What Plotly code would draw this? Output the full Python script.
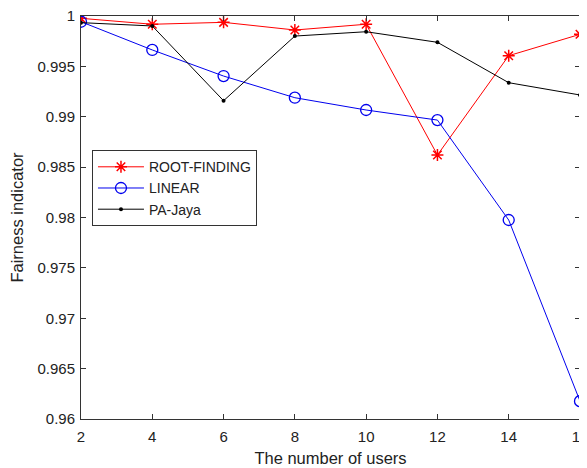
import plotly.graph_objects as go

users = [2, 4, 6, 8, 10, 12, 14, 16]
root_finding = [0.99977, 0.99918, 0.99937, 0.99861, 0.99918, 0.9862, 0.99606, 0.99818]
linear = [0.99943, 0.99663, 0.99404, 0.99189, 0.99067, 0.98967, 0.97975, 0.96177]
pa_jaya = [0.99934, 0.99901, 0.99159, 0.99801, 0.99844, 0.99739, 0.99338, 0.99216]

y_ticks = [0.96, 0.965, 0.97, 0.975, 0.98, 0.985, 0.99, 0.995, 1.0]
y_labels = ["0.96", "0.965", "0.97", "0.975", "0.98", "0.985", "0.99", "0.995", "1"]
x_ticks = [2, 4, 6, 8, 10, 12, 14, 16]

FONT = "Liberation Sans, Arial, sans-serif"

fig = go.Figure()
fig.add_trace(go.Scatter(x=users, y=root_finding, name="ROOT-FINDING", mode="lines+markers",
                         line=dict(color="#ff0000", width=1),
                         marker=dict(symbol="asterisk-open", size=10, color="#ff0000",
                                     line=dict(color="#ff0000", width=1.5))))
fig.add_trace(go.Scatter(x=users, y=linear, name="LINEAR", mode="lines+markers",
                         line=dict(color="#0000ee", width=1),
                         marker=dict(symbol="circle-open", size=11, color="#0000ee",
                                     line=dict(color="#0000ee", width=1.3))))
fig.add_trace(go.Scatter(x=users, y=pa_jaya, name="PA-Jaya", mode="lines+markers",
                         line=dict(color="#000000", width=1),
                         marker=dict(symbol="circle", size=4, color="#000000")))

axis_common = dict(showgrid=False, zeroline=False, showline=True, linecolor="#333333",
                   linewidth=1, mirror="ticks", ticks="inside", ticklen=5, tickcolor="#333333",
                   automargin=False, ticklabeloverflow="allow",
                   tickfont=dict(family=FONT, size=15, color="#222222"))

fig.update_xaxes(range=[2, 16], tickvals=x_ticks, ticklabelstandoff=4,
                 title=dict(text="The number of users", standoff=8,
                            font=dict(family=FONT, size=16.5, color="#222222")),
                 **axis_common)
fig.update_yaxes(range=[0.96, 1.0], tickvals=y_ticks, ticktext=y_labels, ticklabelstandoff=2,
                 title=dict(text="Fairness indicator", standoff=15,
                            font=dict(family=FONT, size=16.5, color="#222222")),
                 **axis_common)

# page body has an 8px margin, so the figure is sized/offset to land where the reference is
fig.update_layout(
    width=579, height=460,
    margin=dict(l=73, r=7, t=8, b=49),
    paper_bgcolor="white", plot_bgcolor="white",
    showlegend=True,
    legend=dict(x=0.022, y=0.667, xanchor="left", yanchor="top",
                bordercolor="#333333", borderwidth=1, bgcolor="white",
                font=dict(family=FONT, size=14, color="#222222"),
                tracegroupgap=0, itemwidth=46),
)

fig.write_html("out.html")
